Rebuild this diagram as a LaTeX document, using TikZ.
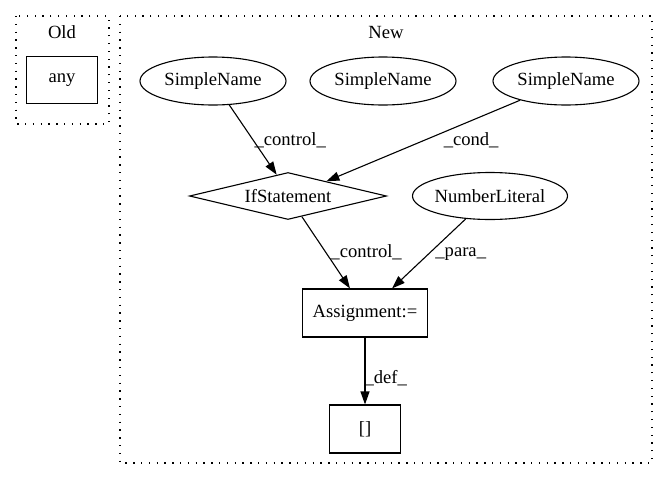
\documentclass[tikz,border=0pt]{standalone}
\usepackage{fontspec}
\setmainfont{Liberation Serif}
\usetikzlibrary{shapes.geometric,arrows.meta}
\tikzset{
  cluster/.style={draw,line width=1.3pt,dash pattern=on 1.3pt off 6.5pt},
  oval/.style={draw,ellipse,inner sep=-20pt,minimum width=146pt,minimum height=48pt},
  box/.style={draw,rectangle,inner sep=0pt,minimum width=71pt,minimum height=47pt},
  cond/.style={draw,diamond,aspect=4.2,inner sep=0pt,minimum width=197pt,minimum height=47pt},
  edge/.style={-{Triangle[length=13pt,width=9pt]}},
  lbl/.style={inner sep=1pt}
}
\begin{document}
\begin{tikzpicture}[x=1pt,y=-1pt,line width=1.1pt,font=\fontsize{18.6}{21}\selectfont]
      \useasboundingbox (0,0) rectangle (669,480);
      % clusters
      \draw[cluster] (16,16) rectangle (109,124);
      \draw[cluster] (120,16) rectangle (652,463);
      \node (old) at (62,32) {Old};
      \node (new) at (386,32) {New};
      % nodes
      \node[box] (any) at (62,80) {any};
      \node[oval] (sn1) at (213,81) {SimpleName};
      \node[oval] (sn2) at (383,81) {SimpleName};
      \node[oval] (sn3) at (566,81) {SimpleName};
      \node[cond] (ifst) at (288,196) {IfStatement};
      \node[oval,minimum width=155pt,minimum height=47pt] (num) at (490,196) {NumberLiteral};
      \node[box,minimum width=125pt,minimum height=48pt] (assign) at (365,313) {Assignment:=};
      \node[box,minimum height=48pt] (arr) at (365,429) {[]};
      % edges
      \draw[edge] (sn1) -- node[lbl,right,pos=0.5] {\_control\_} (ifst.118);
      \draw[edge] (sn3) -- node[lbl,right=17pt,pos=0.49] {\_cond\_} (ifst.21);
      \draw[edge] (ifst) -- node[lbl,right,pos=0.5,xshift=3pt] {\_control\_} ([xshift=-15pt]assign.north);
      \draw[edge] (num) -- node[lbl,right,pos=0.5,xshift=5pt] {\_para\_} ([xshift=27pt]assign.north);
      \draw[edge] (assign) -- node[lbl,right,pos=0.6,xshift=-2pt] {\_def\_} (arr);
\end{tikzpicture}
\end{document}
